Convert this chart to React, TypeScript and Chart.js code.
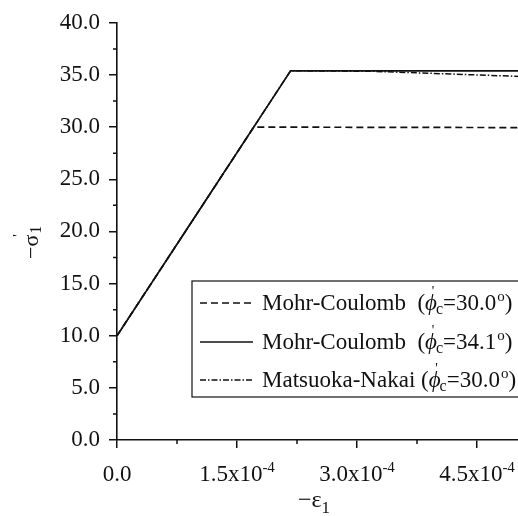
import React, { useEffect, useRef } from "react";
import { Chart, registerables } from "chart.js";

Chart.register(...registerables);

// ---- data ----
const mc30X = [0, 1.71e-4, 5.25e-4];
const mc30Y = [10.0, 30.0, 29.95];
const mc341X = [0, 2.17e-4, 5.25e-4];
const mc341Y = [10.0, 35.4, 35.4];
const mnX = [0, 2.17e-4, 3.2e-4, 5.25e-4];
const mnY = [10.0, 35.4, 35.35, 34.8];

const seriesNames = ["Mohr-Coulomb", "Mohr-Coulomb", "Matsuoka-Nakai"];
const seriesGaps = ["  (", "  (", " ("];
const phiValues = ["30.0", "34.1", "30.0"];

const xTicks = [0, 1.5e-4, 3.0e-4, 4.5e-4];
const xMinorTicks = [0.75e-4, 2.25e-4, 3.75e-4];
const yTicks = [0, 5, 10, 15, 20, 25, 30, 35, 40];
const yMinorTicks = [2.5, 7.5, 12.5, 17.5, 22.5, 27.5, 32.5, 37.5];

const SERIF = '"Liberation Serif", "Times New Roman", serif';
const INK = "#111";

const toPts = (xs: number[], ys: number[]) => xs.map((x, i) => ({ x, y: ys[i] }));

const overlay = {
  id: "overlay",
  afterDraw(chart: any) {
    const ctx = chart.ctx as CanvasRenderingContext2D;
    const xs = chart.scales.x;
    const ys = chart.scales.y;
    const area = chart.chartArea;
    ctx.save();
    ctx.strokeStyle = INK;
    ctx.fillStyle = INK;
    ctx.lineWidth = 1.5;
    // minor ticks
    ctx.beginPath();
    yMinorTicks.forEach((v) => {
      const p = ys.getPixelForValue(v);
      ctx.moveTo(area.left - 4, p);
      ctx.lineTo(area.left, p);
    });
    xMinorTicks.forEach((v) => {
      const p = xs.getPixelForValue(v);
      ctx.moveTo(p, area.bottom);
      ctx.lineTo(p, area.bottom + 4);
    });
    ctx.stroke();

    // x tick labels with superscript exponent
    ctx.textBaseline = "alphabetic";
    ctx.textAlign = "left";
    xTicks.forEach((v) => {
      const p = xs.getPixelForValue(v);
      const base = area.bottom + 41;
      if (v === 0) {
        ctx.font = `23px ${SERIF}`;
        const w = ctx.measureText("0.0").width;
        ctx.fillText("0.0", p - w / 2, base);
        return;
      }
      const main = `${(v * 1e4).toFixed(1)}x10`;
      ctx.font = `23px ${SERIF}`;
      const w1 = ctx.measureText(main).width;
      ctx.font = `15px ${SERIF}`;
      const w2 = ctx.measureText("-4").width;
      const start = p - (w1 + w2) / 2;
      ctx.font = `23px ${SERIF}`;
      ctx.fillText(main, start, base);
      ctx.font = `15px ${SERIF}`;
      ctx.fillText("-4", start + w1, base - 9);
    });

    // x title
    ctx.font = `24px ${SERIF}`;
    ctx.fillText("\u2212\u03b5", 298, 507);
    const wt = ctx.measureText("\u2212\u03b5").width;
    ctx.font = `17px ${SERIF}`;
    ctx.fillText("1", 298 + wt, 513);

    // y title (rotated)
    ctx.save();
    ctx.translate(32, 238);
    ctx.rotate(-Math.PI / 2);
    ctx.font = `22px ${SERIF}`;
    const wm = ctx.measureText("\u2212").width;
    const ws = ctx.measureText("\u03c3").width;
    ctx.fillText("\u2212", -21, 6);
    ctx.fillText("\u03c3", -21 + wm, 6);
    ctx.font = `14px ${SERIF}`;
    ctx.fillText("'", -21 + wm + ws - 2, -9);
    ctx.font = `16px ${SERIF}`;
    ctx.fillText("1", -21 + wm + ws + 1, 9);
    ctx.restore();

    // legend
    const bx = 192, by = 281, bw = 400, bh = 116;
    ctx.lineWidth = 1.2;
    ctx.strokeRect(bx, by, bw, bh);
    const rows = [303, 342, 380];
    chart.data.datasets.forEach((ds: any, i: number) => {
      const cy = rows[i];
      ctx.save();
      ctx.lineWidth = 1.4;
      ctx.setLineDash(ds.borderDash || []);
      ctx.beginPath();
      ctx.moveTo(200, cy);
      ctx.lineTo(253, cy);
      ctx.stroke();
      ctx.restore();
      const base = cy + 7;
      let x = 262;
      ctx.font = `23px ${SERIF}`;
      const head = seriesNames[i] + seriesGaps[i];
      ctx.fillText(head, x, base);
      x += ctx.measureText(head).width;
      ctx.font = `italic 23px ${SERIF}`;
      ctx.fillText("\u03d5", x, base);
      const pw = ctx.measureText("\u03d5").width;
      ctx.font = `14px ${SERIF}`;
      ctx.fillText("'", x + pw * 0.55, base - 14);
      ctx.font = `16px ${SERIF}`;
      ctx.fillText("c", x + pw - 1, base + 4);
      x += pw - 1 + ctx.measureText("c").width;
      ctx.font = `23px ${SERIF}`;
      const eq = "=" + phiValues[i];
      ctx.fillText(eq, x, base);
      x += ctx.measureText(eq).width;
      ctx.font = `15px ${SERIF}`;
      ctx.fillText("o", x + 1, base - 9);
      x += ctx.measureText("o").width + 1;
      ctx.font = `23px ${SERIF}`;
      ctx.fillText(")", x, base);
    });
    ctx.restore();
  },
};

export default function App() {
  const ref = useRef<HTMLCanvasElement>(null);
  useEffect(() => {
    if (!ref.current) return;
    const chart = new Chart(ref.current, {
      type: "line",
      data: {
        datasets: [
          {
            label: `${seriesNames[0]} (\u03d5'c=${phiValues[0]}\u00b0)`,
            data: toPts(mc30X, mc30Y),
            borderColor: INK,
            borderWidth: 1.7,
            borderDash: [7, 4],
          },
          {
            label: `${seriesNames[1]} (\u03d5'c=${phiValues[1]}\u00b0)`,
            data: toPts(mc341X, mc341Y),
            borderColor: INK,
            borderWidth: 1.7,
          },
          {
            label: `${seriesNames[2]} (\u03d5'c=${phiValues[2]}\u00b0)`,
            data: toPts(mnX, mnY),
            borderColor: INK,
            borderWidth: 1.5,
            borderDash: [6, 2, 1.5, 2],
          },
        ],
      },
      options: {
        animation: false,
        responsive: true,
        maintainAspectRatio: false,
        layout: { padding: { top: 19, right: 3, left: 0, bottom: 0 } },
        elements: { point: { radius: 0 }, line: { tension: 0 } },
        plugins: { legend: { display: false }, tooltip: { enabled: false } },
        scales: {
          x: {
            type: "linear",
            min: 0,
            max: 5.25e-4,
            afterBuildTicks: (s: any) => {
              s.ticks = xTicks.map((v) => ({ value: v }));
            },
            afterFit: (s: any) => {
              s.height = 76;
            },
            grid: { drawOnChartArea: false, drawTicks: true, tickLength: 8, color: INK, lineWidth: 1.5 },
            border: { color: INK, width: 1.6 },
            ticks: { display: false },
          },
          y: {
            type: "linear",
            min: 0,
            max: 40,
            afterBuildTicks: (s: any) => {
              s.ticks = yTicks.map((v) => ({ value: v }));
            },
            afterFit: (s: any) => {
              s.width = 117;
            },
            grid: { drawOnChartArea: false, drawTicks: true, tickLength: 8, color: INK, lineWidth: 1.5 },
            border: { color: INK, width: 1.6 },
            ticks: {
              color: INK,
              padding: 9,
              font: { family: SERIF, size: 23 },
              callback: (v: any) => Number(v).toFixed(1),
            },
          },
        },
      },
      plugins: [overlay],
    });
    return () => chart.destroy();
  }, []);
  return (
    <div style={{ position: "fixed", left: 0, top: 0, width: 518, height: 516, overflow: "hidden", background: "#fff" }}>
      <div style={{ position: "relative", width: 540, height: 516 }}>
        <canvas ref={ref} />
      </div>
    </div>
  );
}
